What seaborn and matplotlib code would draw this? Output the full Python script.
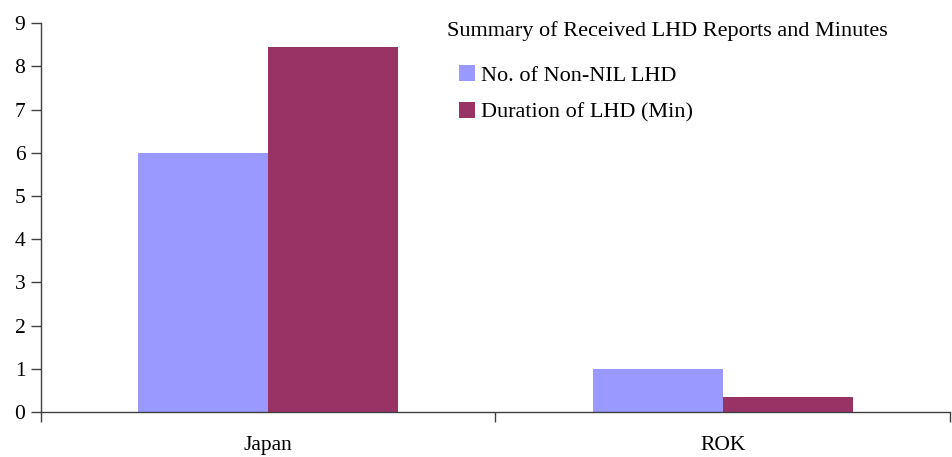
import matplotlib
matplotlib.use("Agg")
import matplotlib.pyplot as plt
import seaborn as sns
import pandas as pd

countries = ["Japan", "ROK"]
series_names = ["No. of Non-NIL LHD", "Duration of LHD (Min)"]
non_nil_counts = [6, 1]
duration_minutes = [8.44, 0.35]
y_ticks = list(range(0, 10))
legend_title = "Summary of Received LHD Reports and Minutes"

df = pd.DataFrame({
    "country": countries * 2,
    "series": [series_names[0]] * len(countries) + [series_names[1]] * len(countries),
    "value": non_nil_counts + duration_minutes,
})

sns.set_style("white")
plt.rcParams["font.family"] = ["Liberation Serif", "DejaVu Serif"]

W, H = 952, 457
fig = plt.figure(figsize=(W / 100, H / 100), dpi=100)
ax = fig.add_axes([0.0428, 0.0985, 0.9552, 0.851])

sns.barplot(data=df, x="country", y="value", hue="series",
            palette=["#9999FF", "#993366"], width=0.572,
            saturation=1, ax=ax, legend=True, edgecolor="none", linewidth=0)

ax.set_xlim(-0.5, 1.5)
ax.set_ylim(0, 9)
ax.set_yticks(y_ticks)
ax.set_xlabel("")
ax.set_ylabel("")

for side in ("top", "right"):
    ax.spines[side].set_visible(False)
for side in ("left", "bottom"):
    ax.spines[side].set_color("#404040")
    ax.spines[side].set_linewidth(1.0)

ax.tick_params(axis="y", which="major", direction="out", length=7,
               width=1, color="#404040", labelsize=15.5, pad=4, left=True,
               labelcolor="black")
ax.tick_params(axis="x", which="major", length=0, labelsize=15.5, pad=17,
               labelcolor="black")
ax.set_xticks([-0.5, 0.5, 1.5], minor=True)
ax.tick_params(axis="x", which="minor", direction="out", length=7,
               width=1, color="#404040", bottom=True)

# Legend: heading on its own line, entries indented beneath it
fig.text(447 / W, 1 - 31 / H, legend_title, fontsize=16, color="black",
         ha="left", va="center")

handles, labels = ax.get_legend_handles_labels()
leg = ax.legend(handles, labels, loc="upper left",
                bbox_to_anchor=(459 / W, 1 - 65 / H),
                bbox_transform=fig.transFigure, frameon=False, fontsize=16,
                handlelength=0.72, handleheight=0.72,
                handletextpad=0.25, labelspacing=0.74, borderaxespad=0,
                borderpad=0)
for t in leg.get_texts():
    t.set_color("black")

fig.savefig("out.png", dpi=100)
